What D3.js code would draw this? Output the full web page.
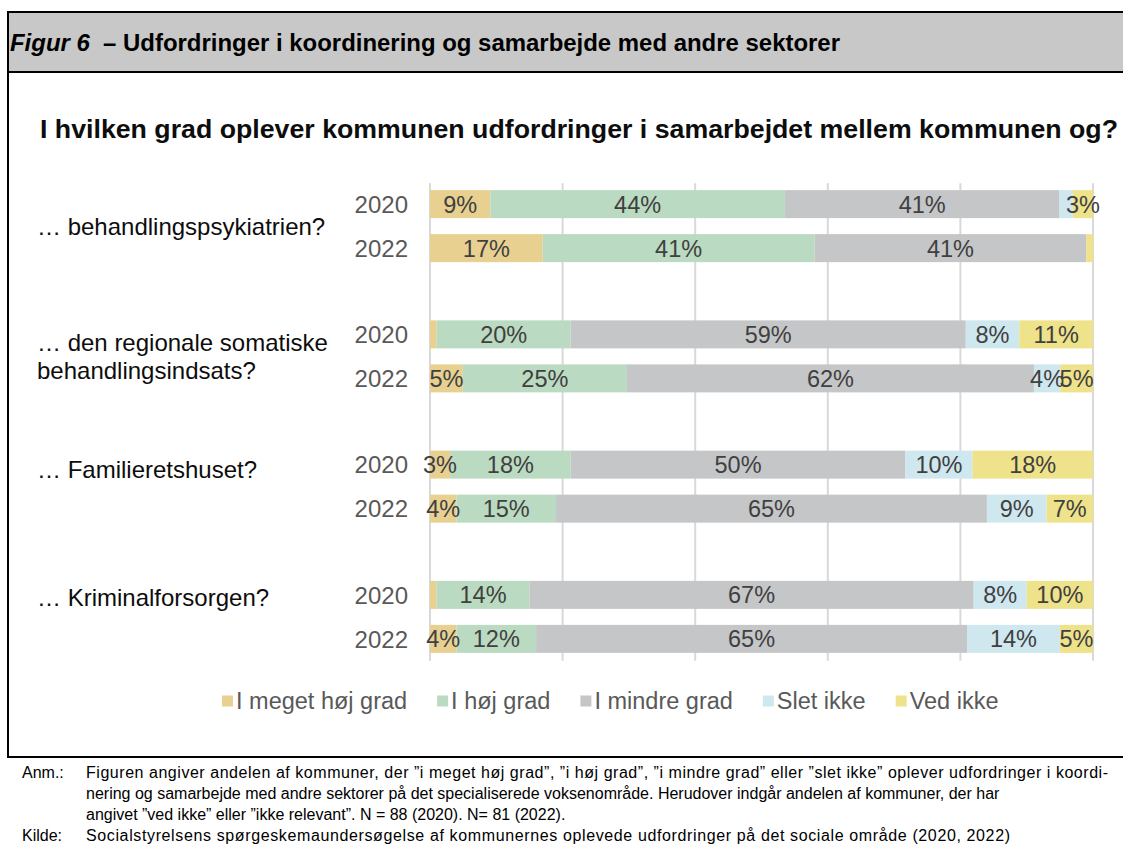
<!DOCTYPE html>
<html>
<head>
<meta charset="utf-8">
<script src="https://cdn.jsdelivr.net/npm/d3@7"></script>
<style>
  html, body { margin: 0; padding: 0; background: #fff; }
  svg { display: block; }
  text { font-family: "Liberation Sans", Arial, sans-serif; }
</style>
</head>
<body>
<svg id="chart" width="1123" height="844"></svg>
<script>
// ---------- DATA ----------
const categories = [
  ["… behandlingspsykiatrien?"],
  ["… den regionale somatiske", "behandlingsindsats?"],
  ["… Familieretshuset?"],
  ["… Kriminalforsorgen?"]
];
const years = ["2020", "2022"];
const seriesNames = ["I meget høj grad", "I høj grad", "I mindre grad", "Slet ikke", "Ved ikke"];
// rows in order: cat1-2020, cat1-2022, cat2-2020, cat2-2022, ...
const meget  = [9, 17, 1, 5, 3, 4, 1, 4];
const hoj    = [44, 41, 20, 25, 18, 15, 14, 12];
const mindre = [41, 41, 59, 62, 50, 65, 67, 65];
const slet   = [2, 0, 8, 4, 10, 9, 8, 14];
const vedIkke = [3, 1, 11, 5, 18, 7, 10, 5];
const xTicks = [0, 0.2, 0.4, 0.6, 0.8, 1];

const headerFig = "Figur 6";
const headerTitle = " – Udfordringer i koordinering og samarbejde med andre sektorer";
const chartTitle = "I hvilken grad oplever kommunen udfordringer i samarbejdet mellem kommunen og?";
const noteLabels = ["Anm.:", "", "", "Kilde:"];
const noteTexts = [
  "Figuren angiver andelen af kommuner, der ”i meget høj grad”, ”i høj grad”, ”i mindre grad” eller ”slet ikke” oplever udfordringer i koordi-",
  "nering og samarbejde med andre sektorer på det specialiserede voksenområde. Herudover indgår andelen af kommuner, der har",
  "angivet ”ved ikke” eller ”ikke relevant”. N = 88 (2020). N= 81 (2022).",
  "Socialstyrelsens spørgeskemaundersøgelse af kommunernes oplevede udfordringer på det sociale område (2020, 2022)"
];

// ---------- STYLE / LAYOUT ----------
const colors = ["#E8D091", "#BADAC1", "#C5C6C8", "#CFE7EF", "#EEE28A"];
const labelAnchor = [0.5, 0.5, 0.1, 0.05]; // where category label sits between its 2 rows
const noteWidths = [1022, null, null, 924];

const svg = d3.select("#chart");

// Frame & header
svg.append("rect").attr("x", 8).attr("y", 12).attr("width", 1123).attr("height", 60)
  .attr("fill", "#C8C8C8");
svg.append("line").attr("x1", 8).attr("x2", 1123).attr("y1", 12).attr("y2", 12).attr("stroke", "#000").attr("stroke-width", 2);
svg.append("line").attr("x1", 8).attr("x2", 1123).attr("y1", 72).attr("y2", 72).attr("stroke", "#000").attr("stroke-width", 2);
svg.append("line").attr("x1", 8).attr("x2", 1123).attr("y1", 757).attr("y2", 757).attr("stroke", "#000").attr("stroke-width", 2);
svg.append("line").attr("x1", 8).attr("x2", 8).attr("y1", 11).attr("y2", 758).attr("stroke", "#000").attr("stroke-width", 2);

const ht = svg.append("text").attr("x", 10).attr("y", 51)
  .style("font-size", "23px").style("font-weight", "bold").attr("fill", "#000")
  .attr("textLength", 830).attr("lengthAdjust", "spacingAndGlyphs");
ht.append("tspan").style("font-style", "italic").text(headerFig);
ht.append("tspan").text("\u00a0" + headerTitle);

svg.append("text").attr("x", 40).attr("y", 138)
  .style("font-size", "26px").style("font-weight", "bold").attr("fill", "#0d0d0d")
  .attr("textLength", 1078).attr("lengthAdjust", "spacingAndGlyphs")
  .text(chartTitle);

// ---------- SCALES ----------
const x = d3.scaleLinear().domain([0, 1]).range([430, 1093]);
const yGroup = d3.scaleBand().domain(d3.range(categories.length)).range([161, 682]).padding(0);
const yYear = d3.scaleBand().domain(years).range([0, yGroup.bandwidth()])
  .paddingInner(16 / 44).paddingOuter(0.662);

// rows
const rows = [];
categories.forEach((c, gi) => {
  years.forEach((yr, yi) => {
    const i = gi * years.length + yi;
    rows.push({ gi, yr, i, vals: [meget[i], hoj[i], mindre[i], slet[i], vedIkke[i]] });
  });
});
const stackData = rows.map(r => {
  const o = { gi: r.gi, yr: r.yr };
  seriesNames.forEach((s, k) => o[s] = r.vals[k]);
  return o;
});
const stack = d3.stack().keys(seriesNames).offset(d3.stackOffsetExpand);
const stacked = stack(stackData);

const rowY = d => yGroup(d.gi) + yYear(d.yr);

// gridlines
const gTop = rowY(stackData[0]) - 7;
const gBot = rowY(stackData[stackData.length - 1]) + yYear.bandwidth() + 8;
svg.append("g").selectAll("line").data(xTicks).join("line")
  .attr("x1", d => x(d)).attr("x2", d => x(d))
  .attr("y1", gTop).attr("y2", gBot)
  .attr("stroke", "#D9D9D9").attr("stroke-width", 2);

// bars
const layers = svg.append("g").selectAll("g").data(stacked).join("g")
  .attr("fill", (d, k) => colors[k]);
layers.selectAll("rect").data(d => d).join("rect")
  .attr("x", d => x(d[0]))
  .attr("width", d => x(d[1]) - x(d[0]))
  .attr("y", d => rowY(d.data))
  .attr("height", yYear.bandwidth());

// value labels
stacked.forEach((layer, k) => {
  svg.append("g").selectAll("text").data(layer.filter(d => d.data[layer.key] >= 3)).join("text")
    .attr("x", d => (x(d[0]) + x(d[1])) / 2)
    .attr("y", d => rowY(d.data) + yYear.bandwidth() / 2)
    .attr("dy", "0.36em")
    .attr("text-anchor", "middle")
    .style("font-size", "23.5px").attr("fill", "#404040")
    .text(d => Math.round(d.data[layer.key]) + "%");
});

// year labels
svg.append("g").selectAll("text").data(stackData).join("text")
  .attr("x", 408)
  .attr("y", d => rowY(d) + yYear.bandwidth() / 2)
  .attr("dy", "0.36em")
  .attr("text-anchor", "end")
  .style("font-size", "24px").attr("fill", "#595959")
  .text(d => d.yr);

// category labels
categories.forEach((lines, gi) => {
  const y0 = yGroup(gi) + yYear(years[0]) + yYear.bandwidth() / 2;
  const y1 = yGroup(gi) + yYear(years[1]) + yYear.bandwidth() / 2;
  const yc = y0 + (y1 - y0) * labelAnchor[gi];
  const lh = 28;
  const t = svg.append("text").attr("x", 37).style("font-size", "24px").attr("fill", "#0d0d0d");
  lines.forEach((ln, li) => {
    t.append("tspan").attr("x", 37)
      .attr("y", yc + (li - (lines.length - 1) / 2) * lh)
      .attr("dy", "0.36em").text(ln);
  });
});

// legend
const legend = svg.append("g");
const items = legend.selectAll("g").data(seriesNames).join("g");
items.append("rect").attr("width", 11).attr("height", 11).attr("y", -5.5)
  .attr("fill", (d, k) => colors[k]);
items.append("text").attr("x", 14).attr("dy", "0.36em")
  .style("font-size", "23.5px").attr("fill", "#595959").text(d => d);
let widths = [];
items.each(function() { widths.push(this.getBBox().width); });
const gap = 30;
let cx = 222;
items.attr("transform", (d, k) => {
  const tx = cx; cx += widths[k] + gap; return `translate(${tx},701)`;
});

// footnote
noteTexts.forEach((txt, i) => {
  const yb = 778 + i * 21;
  if (noteLabels[i]) svg.append("text").attr("x", 22).attr("y", yb).style("font-size", "16px").attr("fill", "#000").text(noteLabels[i]);
  const t = svg.append("text").attr("x", 86).attr("y", yb).style("font-size", "16px").attr("fill", "#000")
    .text(txt);
  if (noteWidths[i]) t.attr("textLength", noteWidths[i]).attr("lengthAdjust", "spacing");
});
</script>
</body>
</html>
